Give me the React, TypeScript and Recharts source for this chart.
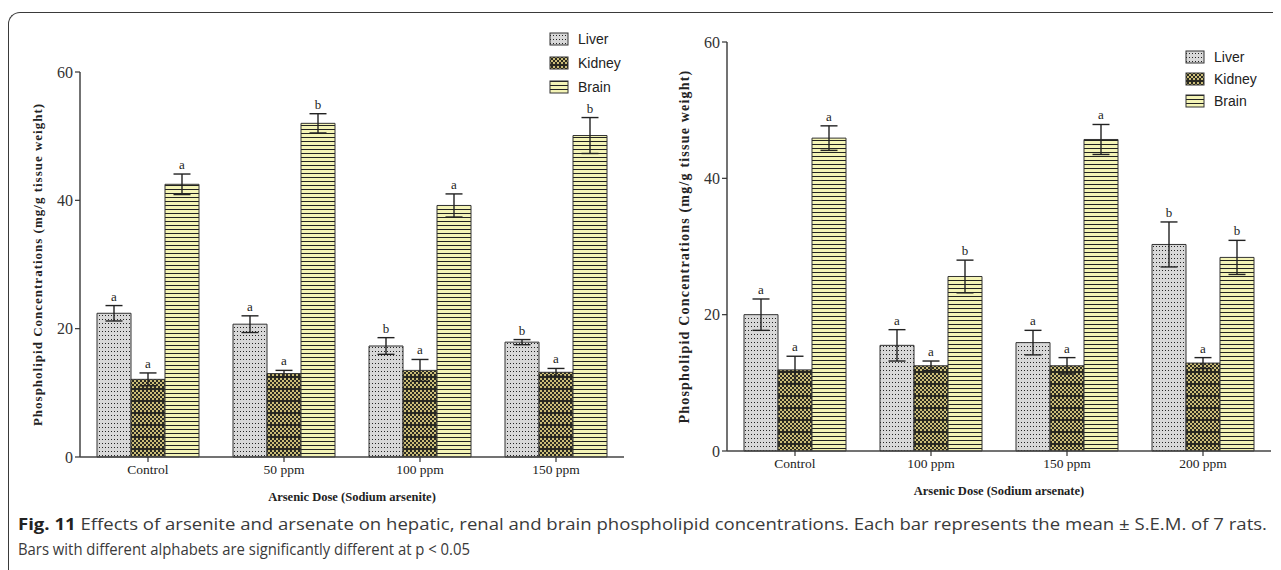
import React from "react";
import {
  BarChart,
  Bar,
  XAxis,
  YAxis,
  ErrorBar,
  LabelList,
  Legend,
} from "recharts";

// arsenite panel
const doses1 = ["Control", "50 ppm", "100 ppm", "150 ppm"];
const liver1 = [22.4, 20.7, 17.3, 17.9];
const liver1Sem = [1.2, 1.3, 1.3, 0.4];
const liver1Sig = ["a", "a", "b", "b"];
const kidney1 = [12.1, 13.0, 13.5, 13.2];
const kidney1Sem = [1.0, 0.5, 1.7, 0.6];
const kidney1Sig = ["a", "a", "a", "a"];
const brain1 = [42.5, 52.0, 39.2, 50.1];
const brain1Sem = [1.6, 1.5, 1.8, 2.8];
const brain1Sig = ["a", "b", "a", "b"];

// arsenate panel
const doses2 = ["Control", "100 ppm", "150 ppm", "200 ppm"];
const liver2 = [20.0, 15.5, 15.9, 30.3];
const liver2Sem = [2.3, 2.3, 1.8, 3.3];
const liver2Sig = ["a", "a", "a", "b"];
const kidney2 = [11.9, 12.5, 12.5, 12.9];
const kidney2Sem = [2.0, 0.7, 1.2, 0.8];
const kidney2Sig = ["a", "a", "a", "a"];
const brain2 = [45.9, 25.6, 45.7, 28.4];
const brain2Sem = [1.8, 2.4, 2.2, 2.5];
const brain2Sig = ["a", "b", "a", "b"];

const yTicks = [0, 20, 40, 60];
const organs = ["Liver", "Kidney", "Brain"];
const fills = ["url(#liverDots)", "url(#kidneyCheck)", "url(#brainLines)"];

const serif = "'Liberation Serif', 'Times New Roman', serif";
const sans = "'Liberation Sans', Arial, sans-serif";

function buildRows(
  doses: string[],
  lv: number[], lvE: number[], lvS: string[],
  kd: number[], kdE: number[], kdS: string[],
  br: number[], brE: number[], brS: string[],
) {
  return doses.map((dose, i) => ({
    dose,
    Liver: lv[i], LiverSem: lvE[i], LiverSig: lvS[i],
    Kidney: kd[i], KidneySem: kdE[i], KidneySig: kdS[i],
    Brain: br[i], BrainSem: brE[i], BrainSig: brS[i],
  }));
}

const rows1 = buildRows(doses1, liver1, liver1Sem, liver1Sig, kidney1, kidney1Sem, kidney1Sig, brain1, brain1Sem, brain1Sig);
const rows2 = buildRows(doses2, liver2, liver2Sem, liver2Sig, kidney2, kidney2Sem, kidney2Sig, brain2, brain2Sem, brain2Sig);

function Patterns() {
  return (
    <svg width={0} height={0} style={{ position: "absolute" }}>
      <defs>
        <pattern id="liverDots" width={3} height={4} patternUnits="userSpaceOnUse">
          <rect width={3} height={4} fill="#d8d8d8" />
          <rect x={1} y={1} width={1} height={1} fill="#222" />
        </pattern>
        <pattern id="kidneyCheck" width={4} height={12} patternUnits="userSpaceOnUse">
          <rect width={4} height={12} fill="#2a2a22" />
          <rect x={0} y={0} width={2} height={2} fill="#cbbd78" />
          <rect x={2} y={2} width={2} height={2} fill="#cbbd78" />
          <rect x={0} y={4} width={2} height={2} fill="#cbbd78" />
          <rect x={2} y={6} width={2} height={2} fill="#cbbd78" />
          <rect x={0} y={8} width={2} height={2} fill="#cbbd78" />
        </pattern>
        <pattern id="brainLines" width={4} height={4} patternUnits="userSpaceOnUse">
          <rect width={4} height={4} fill="#f4f4b6" />
          <rect x={0} y={3} width={4} height={1} fill="#222" />
        </pattern>
      </defs>
    </svg>
  );
}

function sigLabel(rows: any[], organ: string) {
  return (p: any) => {
    const x = p.x ?? p.viewBox?.x;
    const y = p.y ?? p.viewBox?.y;
    const w = p.width ?? p.viewBox?.width;
    const h = p.height ?? p.viewBox?.height;
    const row = rows[p.index];
    if (!row) return null;
    const v = row[organ];
    const ppu = h / v;
    const capY = y - row[organ + "Sem"] * ppu;
    return (
      <text
        x={x + w / 2}
        y={capY - 5}
        textAnchor="middle"
        fontFamily={serif}
        fontSize={13}
        fill="#222"
      >
        {row[organ + "Sig"]}
      </text>
    );
  };
}

function LegendBox({ gap }: { gap: number }) {
  return (
    <svg width={90} height={gap * 3 + 4}>
      {organs.map((o, i) => (
        <g key={o} transform={`translate(0, ${i * gap})`}>
          <rect x={1} y={3} width={18} height={12} fill={fills[i]} stroke="#333" strokeWidth={1} />
          <text x={29} y={14} fontFamily={sans} fontSize={14} fill="#222">
            {o}
          </text>
        </g>
      ))}
    </svg>
  );
}

interface PanelProps {
  rows: any[];
  width: number;
  height: number;
  margin: { top: number; right: number; bottom: number; left: number };
  xTitle: string;
  yFont: number;
  yLetter: number;
  legendPos: { left: number; top: number };
  legendGap: number;
}

function Panel({ rows, width, height, margin, xTitle, yFont, yLetter, legendPos, legendGap }: PanelProps) {
  return (
    <BarChart
      width={width}
      height={height}
      data={rows}
      margin={margin}
      barCategoryGap="12.5%"
      barGap={0}
    >
      <XAxis
        dataKey="dose"
        tickSize={5}
        tickLine={{ stroke: "#333", strokeWidth: 1.2 }}
        axisLine={{ stroke: "#444", strokeWidth: 1.5 }}
        tick={{ fontFamily: serif, fontSize: 13.5, fill: "#222" }}
        height={40}
        label={(p: any) => {
          const vb = p.viewBox;
          return (
            <text
              x={vb.x + vb.width / 2}
              y={vb.y + 44}
              textAnchor="middle"
              fontFamily={serif}
              fontWeight="bold"
              fontSize={12.5}
              fill="#222"
            >
              {xTitle}
            </text>
          );
        }}
      />
      <YAxis
        domain={[0, 60]}
        ticks={yTicks}
        width={35}
        tickSize={5}
        tickLine={{ stroke: "#333", strokeWidth: 1.2 }}
        axisLine={{ stroke: "#444", strokeWidth: 1.5 }}
        tick={{ fontFamily: serif, fontSize: 16, fill: "#333" }}
        label={(p: any) => {
          const vb = p.viewBox;
          const cx = vb.x - 8;
          const cy = vb.y + vb.height / 2;
          return (
            <text
              x={cx}
              y={cy}
              transform={`rotate(-90, ${cx}, ${cy})`}
              textAnchor="middle"
              dominantBaseline="central"
              fontFamily={serif}
              fontWeight="bold"
              fontSize={yFont}
              letterSpacing={yLetter}
              fill="#222"
            >
              Phospholipid Concentrations (mg/g tissue weight)
            </text>
          );
        }}
      />
      <Legend
        layout="vertical"
        align="center"
        verticalAlign="middle"
        wrapperStyle={{ position: "absolute", left: legendPos.left, top: legendPos.top, width: 90 }}
        content={() => <LegendBox gap={legendGap} />}
      />
      {organs.map((o, i) => (
        <Bar
          key={o}
          dataKey={o}
          name={o}
          fill={fills[i]}
          stroke="#333"
          strokeWidth={1}
          isAnimationActive={false}
        >
          <ErrorBar dataKey={o + "Sem"} width={8.5} stroke="#222" strokeWidth={1.4} direction="y" />
          <LabelList dataKey={o} content={sigLabel(rows, o)} />
        </Bar>
      ))}
    </BarChart>
  );
}

export default function App() {
  return (
    <div style={{ position: "relative", width: 1273, height: 562 }}>
      <Patterns />
      <div
        style={{
          position: "absolute",
          left: 0,
          top: 4,
          width: 1280,
          height: 560,
          borderTop: "1.5px solid #3a3a3a",
          borderLeft: "1.5px solid #3a3a3a",
          borderTopLeftRadius: 12,
          boxSizing: "border-box",
        }}
      />
      <div style={{ position: "absolute", left: 12, top: 22 }}>
        <Panel
          rows={rows1}
          width={615}
          height={480}
          margin={{ top: 42, right: 11, bottom: 13, left: 25 }}
          xTitle="Arsenic Dose (Sodium arsenite)"
          yFont={13}
          yLetter={1}
          legendPos={{ left: 529, top: 0 }}
          legendGap={24}
        />
      </div>
      <div style={{ position: "absolute", left: 652, top: 17 }}>
        <Panel
          rows={rows2}
          width={620}
          height={480}
          margin={{ top: 17, right: 9, bottom: 14, left: 32 }}
          xTitle="Arsenic Dose (Sodium arsenate)"
          yFont={14}
          yLetter={1.2}
          legendPos={{ left: 525, top: 23 }}
          legendGap={22}
        />
      </div>
      <svg
        width={1273}
        height={60}
        style={{ position: "absolute", left: -8, top: 497 }}
      >
        <text
          x={18}
          y={25}
          fontFamily="'Open Sans', sans-serif"
          fontSize={16}
          fill="#3a3a3a"
          textLength={1249}
          lengthAdjust="spacingAndGlyphs"
        >
          <tspan fontWeight="bold" fill="#222">Fig. 11</tspan>
          <tspan> Effects of arsenite and arsenate on hepatic, renal and brain phospholipid concentrations. Each bar represents the mean ± S.E.M. of 7 rats.</tspan>
        </text>
        <text
          x={18}
          y={50}
          fontFamily="'Open Sans', sans-serif"
          fontSize={16}
          fill="#3a3a3a"
          textLength={452}
          lengthAdjust="spacingAndGlyphs"
        >
          Bars with different alphabets are significantly different at p &lt; 0.05
        </text>
      </svg>
    </div>
  );
}
